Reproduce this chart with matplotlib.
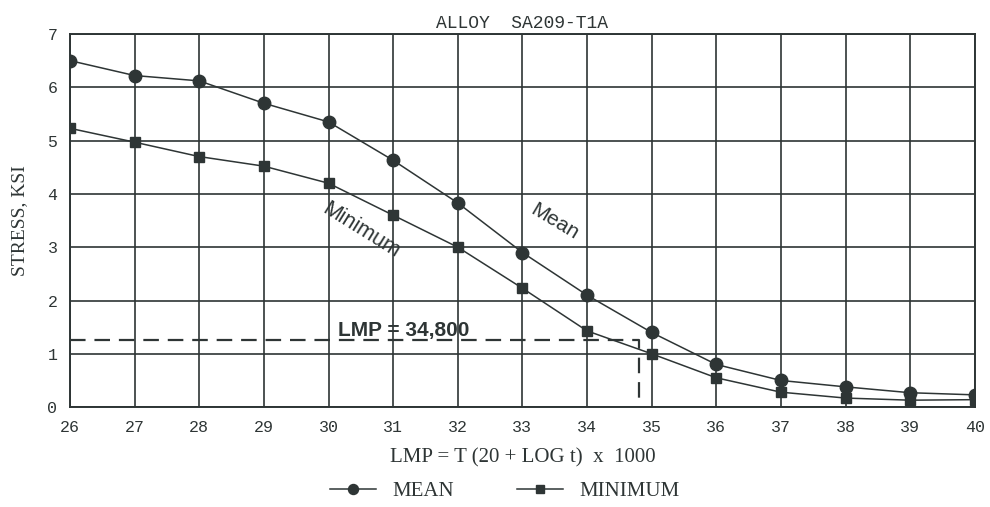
import numpy as np
import matplotlib
matplotlib.use("Agg")
import matplotlib.pyplot as plt

# values
lmp = [26, 27, 28, 29, 30, 31, 32, 33, 34, 35, 36, 37, 38, 39, 40]
mean_ksi = [6.5, 6.22, 6.12, 5.7, 5.35, 4.63, 3.83, 2.9, 2.1, 1.4, 0.8, 0.5, 0.38, 0.27, 0.23]
min_ksi = [5.23, 4.97, 4.7, 4.52, 4.2, 3.6, 3.0, 2.23, 1.43, 1.0, 0.55, 0.28, 0.17, 0.13, 0.14]
lmp_mark = 34.8
stress_mark = 1.25

ink = "#2e3535"
serif = ["Liberation Serif", "DejaVu Serif"]
mono = ["Liberation Mono", "DejaVu Sans Mono"]
sans = ["Liberation Sans", "DejaVu Sans"]

fig = plt.figure(figsize=(9.9, 5.07), dpi=100)
ax = fig.add_axes([0.0707, 0.197, 0.914, 0.736])

ax.plot(lmp, mean_ksi, color=ink, lw=1.1, marker="o", ms=9, label="MEAN")
ax.plot(lmp, min_ksi, color=ink, lw=1.1, marker="s", ms=7.5, label="MINIMUM")

# dashed lookup line
ax.plot([26, lmp_mark, lmp_mark], [stress_mark, stress_mark, 0], color=ink, lw=1.6,
        ls=(0, (7, 4)))

ax.set_xlim(26, 40)
ax.set_ylim(0, 7)
ax.set_xticks(range(26, 41))
ax.set_yticks(range(0, 8))
ax.grid(True, color=ink, lw=1.2)
for s in ax.spines.values():
    s.set_color(ink)
    s.set_linewidth(1.4)
ax.tick_params(length=0, pad=9, colors=ink, labelsize=12)
for lab in ax.get_xticklabels() + ax.get_yticklabels():
    lab.set_family(mono)

ax.text(30.15, 1.44, "LMP = 34,800", family=sans, fontsize=15, fontweight="bold",
        color=ink, va="center")
ax.text(30.5, 3.32, "Minimum", family=sans, fontsize=15.5, color=ink, rotation=-32,
        ha="center", va="center", rotation_mode="anchor")
ax.text(33.5, 3.47, "Mean", family=sans, fontsize=15, color=ink, rotation=-31,
        ha="center", va="center", rotation_mode="anchor")

ax.set_title("ALLOY  SA209-T1A", family=mono, fontsize=13, color=ink, pad=4)
ax.set_ylabel("STRESS, KSI", family=serif, fontsize=14, color=ink, labelpad=14)
ax.set_xlabel("LMP = T (20 + LOG t)  x  1000", family=serif, fontsize=15, color=ink,
              labelpad=10)

fig.legend(loc="lower center", bbox_to_anchor=(0.51, -0.025), ncol=2, frameon=False,
           prop={"family": serif, "size": 15}, labelcolor=ink, columnspacing=3,
           handlelength=2.2, markerscale=0.8)

fig.savefig("out.png", dpi=100, facecolor="white")
